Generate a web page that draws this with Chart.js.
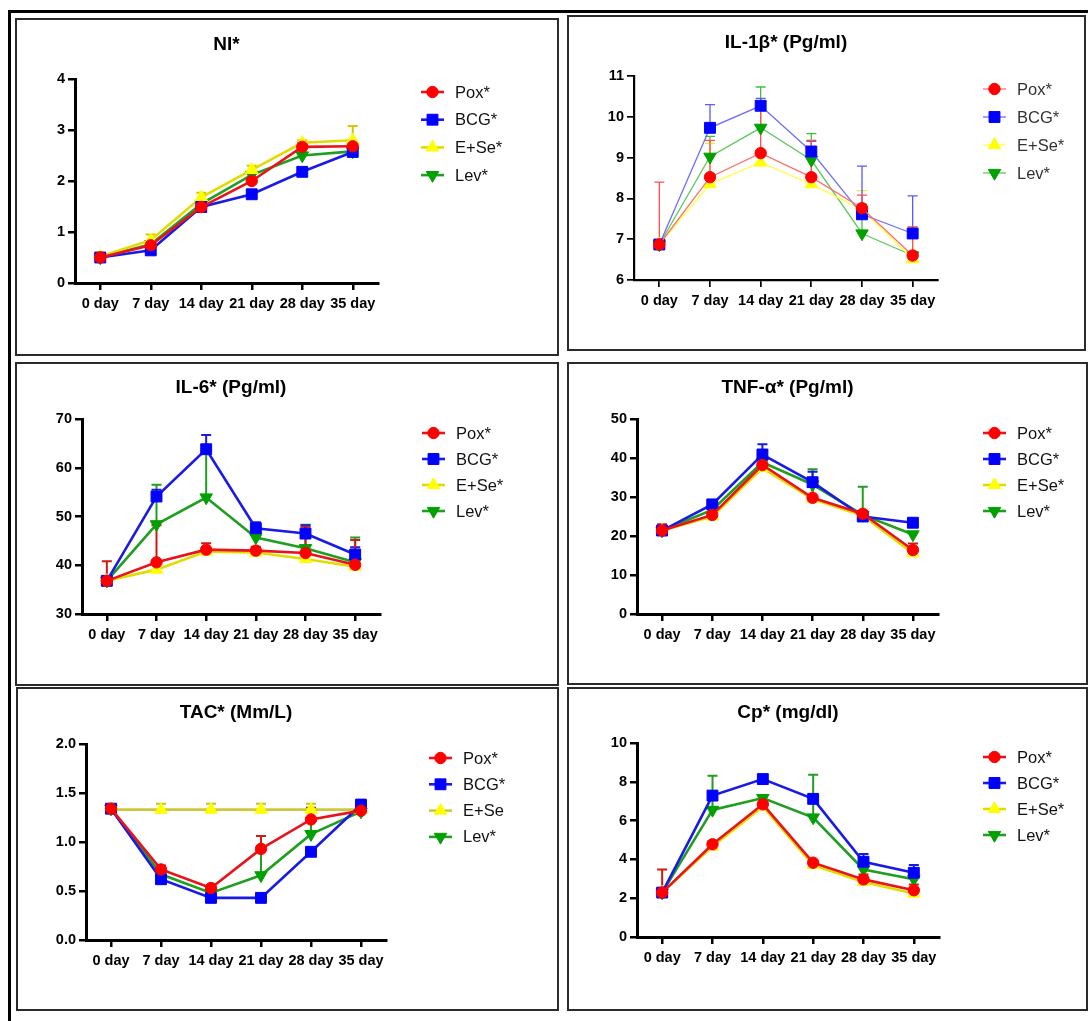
<!DOCTYPE html>
<html><head><meta charset="utf-8">
<script src="https://cdn.jsdelivr.net/npm/chart.js@4.4.0/dist/chart.umd.min.js"></script>
<style>
html,body{margin:0;padding:0;background:#fff;width:1088px;height:1021px;overflow:hidden;position:relative;}
.frameTop{position:absolute;left:8px;top:10px;width:1080px;height:3px;background:#000;}
.frameLeft{position:absolute;left:8px;top:10px;width:3px;height:1011px;background:#000;}
.box{position:absolute;border:2px solid #2b2b2b;box-sizing:border-box;pointer-events:none;}
canvas{position:absolute;}
</style></head><body>
<div class="frameTop"></div><div class="frameLeft"></div>
<script>
// ---------- DATA ----------
const days = ['0 day', '7 day', '14 day', '21 day', '28 day', '35 day'];
const groupNames = ['Pox*', 'BCG*', 'E+Se*', 'Lev*'];
const tacGroupNames = ['Pox*', 'BCG*', 'E+Se', 'Lev*'];

// NI*
const ni_pox = [0.50, 0.74, 1.49, 2.00, 2.67, 2.68];
const ni_bcg = [0.50, 0.64, 1.49, 1.74, 2.18, 2.57];
const ni_ese = [0.52, 0.84, 1.68, 2.22, 2.75, 2.80];
const ni_lev = [0.50, 0.76, 1.55, 2.12, 2.50, 2.58];
const ni_pox_sd = [0.03, 0.06, 0.05, 0.07, 0.08, 0.06];
const ni_bcg_sd = [0.03, 0.05, 0.05, 0.05, 0.07, 0.05];
const ni_ese_sd = [0.03, 0.11, 0.09, 0.08, 0.05, 0.28];
const ni_lev_sd = [0.03, 0.05, 0.05, 0.06, 0.06, 0.05];

// IL-1β*
const il1_pox = [6.87, 8.52, 9.11, 8.52, 7.76, 6.60];
const il1_bcg = [6.87, 9.73, 10.27, 9.15, 7.61, 7.14];
const il1_ese = [6.87, 8.35, 8.88, 8.35, 7.72, 6.52];
const il1_lev = [6.87, 9.02, 9.73, 8.94, 7.14, 6.60];
const il1_pox_sd = [1.53, 0.90, 1.25, 0.90, 0.32, 0.70];
const il1_bcg_sd = [0, 0.57, 0.18, 0.25, 1.18, 0.92];
const il1_ese_sd = [0, 1.00, 0.30, 1.08, 0.47, 0.78];
const il1_lev_sd = [0, 0.50, 1.00, 0.65, 0.72, 0.10];

// IL-6*
const il6_pox = [36.8, 40.6, 43.2, 43.0, 42.5, 40.1];
const il6_bcg = [36.8, 54.1, 63.8, 47.6, 46.5, 42.2];
const il6_ese = [36.8, 39.1, 42.8, 42.6, 41.3, 39.7];
const il6_lev = [36.8, 48.4, 53.9, 45.7, 43.5, 40.6];
const il6_pox_sd = [4.0, 7.6, 1.3, 0.8, 5.4, 5.1];
const il6_bcg_sd = [0, 1.4, 2.9, 1.2, 1.7, 1.5];
const il6_ese_sd = [0, 0, 0, 0, 0, 0];
const il6_lev_sd = [0, 8.1, 9.4, 0, 4.8, 5.1];

// TNF-α*
const tnf_pox = [21.4, 25.4, 38.2, 29.8, 25.7, 16.4];
const tnf_bcg = [21.4, 28.1, 40.9, 33.8, 25.0, 23.4];
const tnf_ese = [21.4, 25.0, 37.4, 29.5, 25.2, 15.6];
const tnf_lev = [21.4, 26.7, 38.9, 33.2, 25.4, 20.4];
const tnf_pox_sd = [1.6, 1.5, 3.8, 2.8, 0.5, 1.7];
const tnf_bcg_sd = [0, 0.5, 2.6, 2.7, 1.5, 0.5];
const tnf_ese_sd = [0, 0, 3.5, 0, 0, 0];
const tnf_lev_sd = [0, 0.5, 1.5, 3.9, 7.2, 0.5];

// TAC*
const tac_pox = [1.34, 0.72, 0.53, 0.93, 1.23, 1.32];
const tac_bcg = [1.34, 0.62, 0.43, 0.43, 0.90, 1.38];
const tac_ese = [1.33, 1.33, 1.33, 1.33, 1.33, 1.33];
const tac_lev = [1.34, 0.67, 0.48, 0.66, 1.08, 1.31];
const tac_pox_sd = [0.02, 0.04, 0.03, 0.13, 0.12, 0.05];
const tac_bcg_sd = [0, 0, 0, 0, 0, 0.05];
const tac_ese_sd = [0.03, 0.06, 0.06, 0.06, 0.06, 0.03];
const tac_lev_sd = [0, 0, 0, 0.26, 0.15, 0];

// Cp*
const cp_pox = [2.29, 4.78, 6.84, 3.83, 2.97, 2.41];
const cp_bcg = [2.29, 7.29, 8.14, 7.12, 3.88, 3.31];
const cp_ese = [2.29, 4.66, 6.72, 3.71, 2.84, 2.24];
const cp_lev = [2.29, 6.55, 7.16, 6.16, 3.48, 2.98];
const cp_pox_sd = [1.19, 0.15, 0.1, 0.1, 0.25, 0.3];
const cp_bcg_sd = [0, 0, 0, 0, 0.4, 0.4];
const cp_ese_sd = [0, 0, 0, 0, 0, 0];
const cp_lev_sd = [0, 1.76, 0, 2.2, 0, 0];

// ---------- STYLES ----------
const FONT = '"Liberation Sans", Arial, Helvetica, sans-serif';
const shapes = ['circle', 'rect', 'triangle', 'triangle'];
const rotations = [0, 0, 0, 180];
const radii = [5.7, 7.7, 7.2, 7.2];
const markerColors = ['#ff0000', '#0000ff', '#ffff00', '#00a000'];
const boldTheme = {
  line: ['#e8141c', '#1a1ae6', '#e0dc00', '#1f9e1f'],
  err: ['#d01818', '#1a1ae6', '#d4c800', '#1f9e1f'],
  lw: 2.6, axisW: 3, legendColor: '#111'
};
const tacTheme = {
  line: ['#e8141c', '#1a1ae6', '#cdc83a', '#1f9e1f'],
  err: ['#d01818', '#1a1ae6', '#c8c030', '#1f9e1f'],
  lw: 2.6, axisW: 3, legendColor: '#111'
};
const lightTheme = {
  line: ['#ff6e6e', '#6e6eff', '#ffff4a', '#5cc85c'],
  err: ['#ff5050', '#5a5aff', '#f0e640', '#40c040'],
  lw: 1.3, axisW: 2.2, legendColor: '#333'
};

// ---------- PLUGINS ----------
const errorBars = {
  id: 'errorBars',
  beforeDatasetsDraw(chart) {
    const ctx = chart.ctx, xs = chart.scales.x, ys = chart.scales.y;
    const dsets = chart.data.datasets;
    for (let d = dsets.length - 1; d >= 0; d--) {
      const ds = dsets[d];
      if (!ds.errors) continue;
      ctx.save();
      ctx.strokeStyle = ds.errorColor;
      ctx.lineWidth = ds.errorWidth;
      ds.data.forEach((v, i) => {
        const e = ds.errors[i];
        if (!e) return;
        const x = xs.getPixelForValue(i);
        const y0 = ys.getPixelForValue(v);
        const y1 = ys.getPixelForValue(v + e);
        ctx.beginPath();
        ctx.moveTo(x, y0); ctx.lineTo(x, y1);
        ctx.moveTo(x - 5, y1); ctx.lineTo(x + 5, y1);
        ctx.stroke();
      });
      ctx.restore();
    }
  }
};

const panelTitle = {
  id: 'panelTitle',
  afterDraw(chart, args, opts) {
    const ctx = chart.ctx, ca = chart.chartArea;
    ctx.save();
    ctx.font = 'bold 19px ' + FONT;
    ctx.fillStyle = '#000';
    ctx.textAlign = 'center';
    ctx.textBaseline = 'middle';
    ctx.fillText(opts.text, (ca.left + ca.right) / 2, opts.y);
    ctx.restore();
  }
};

function drawMarker(ctx, style, rot, r, x, y, color) {
  ctx.save();
  ctx.fillStyle = color; ctx.strokeStyle = color; ctx.lineWidth = 1;
  if (Chart.helpers && Chart.helpers.drawPoint) {
    Chart.helpers.drawPoint(ctx, {pointStyle: style, rotation: rot, radius: r, borderWidth: 1}, x, y);
  } else {
    ctx.beginPath(); ctx.arc(x, y, r, 0, Math.PI * 2); ctx.fill();
  }
  ctx.restore();
}

const panelLegend = {
  id: 'panelLegend',
  afterDraw(chart, args, opts) {
    const ctx = chart.ctx;
    chart.data.datasets.forEach((ds, i) => {
      const y = opts.y0 + i * opts.dy;
      const tx = opts.x;
      ctx.save();
      ctx.strokeStyle = ds.borderColor;
      ctx.lineWidth = ds.borderWidth;
      ctx.beginPath(); ctx.moveTo(tx - 34, y); ctx.lineTo(tx - 11, y); ctx.stroke();
      ctx.restore();
      drawMarker(ctx, ds.pointStyle, ds.pointRotation, ds.pointRadius, tx - 22.5, y, ds.pointBackgroundColor);
      ctx.save();
      ctx.font = '16.5px ' + FONT;
      ctx.fillStyle = opts.color;
      ctx.textAlign = 'left';
      ctx.textBaseline = 'middle';
      ctx.fillText(ds.label, tx, y + 1);
      ctx.restore();
    });
  }
};

// ---------- PANELS ----------
const panels = [
  {title: 'NI*', names: groupNames, theme: boldTheme,
   series: [[ni_pox, ni_pox_sd], [ni_bcg, ni_bcg_sd], [ni_ese, ni_ese_sd], [ni_lev, ni_lev_sd]],
   y: {min: 0, max: 4, step: 1, dec: 0},
   box: {x: 15, y: 18, w: 544, h: 338}, area: {l: 75, r: 378, t: 79, b: 283},
   titleY: 45, leg: {x: 455, y0: 92, dy: 27.7}},
  {title: 'IL-1\u03B2* (Pg/ml)', names: groupNames, theme: lightTheme,
   series: [[il1_pox, il1_pox_sd], [il1_bcg, il1_bcg_sd], [il1_ese, il1_ese_sd], [il1_lev, il1_lev_sd]],
   y: {min: 6, max: 11, step: 1, dec: 0},
   box: {x: 567, y: 15, w: 519, h: 336}, area: {l: 634, r: 938, t: 76, b: 280},
   titleY: 43, leg: {x: 1017, y0: 89, dy: 28}},
  {title: 'IL-6* (Pg/ml)', names: groupNames, theme: boldTheme,
   series: [[il6_pox, il6_pox_sd], [il6_bcg, il6_bcg_sd], [il6_ese, il6_ese_sd], [il6_lev, il6_lev_sd]],
   y: {min: 30, max: 70, step: 10, dec: 0},
   box: {x: 15, y: 362, w: 544, h: 324}, area: {l: 82, r: 380, t: 419, b: 614},
   titleY: 388, leg: {x: 456, y0: 433, dy: 26}},
  {title: 'TNF-\u03B1* (Pg/ml)', names: groupNames, theme: boldTheme,
   series: [[tnf_pox, tnf_pox_sd], [tnf_bcg, tnf_bcg_sd], [tnf_ese, tnf_ese_sd], [tnf_lev, tnf_lev_sd]],
   y: {min: 0, max: 50, step: 10, dec: 0},
   box: {x: 567, y: 362, w: 521, h: 323}, area: {l: 637, r: 938, t: 419, b: 614},
   titleY: 388, leg: {x: 1017, y0: 433, dy: 26}},
  {title: 'TAC* (Mm/L)', names: tacGroupNames, theme: tacTheme,
   series: [[tac_pox, tac_pox_sd], [tac_bcg, tac_bcg_sd], [tac_ese, tac_ese_sd], [tac_lev, tac_lev_sd]],
   y: {min: 0, max: 2, step: 0.5, dec: 1},
   box: {x: 16, y: 687, w: 543, h: 324}, area: {l: 86, r: 386, t: 744, b: 940},
   titleY: 713, leg: {x: 463, y0: 758, dy: 26.3}},
  {title: 'Cp* (mg/dl)', names: groupNames, theme: boldTheme,
   series: [[cp_pox, cp_pox_sd], [cp_bcg, cp_bcg_sd], [cp_ese, cp_ese_sd], [cp_lev, cp_lev_sd]],
   y: {min: 0, max: 10, step: 2, dec: 0},
   box: {x: 567, y: 687, w: 521, h: 324}, area: {l: 637, r: 939, t: 743, b: 937},
   titleY: 713, leg: {x: 1017, y0: 757, dy: 26}}
];

const YW = 40, XH = 40;

panels.forEach(p => {
  const c = document.createElement('canvas');
  c.width = p.box.w; c.height = p.box.h;
  c.style.left = p.box.x + 'px'; c.style.top = p.box.y + 'px';
  c.style.width = p.box.w + 'px'; c.style.height = p.box.h + 'px';
  document.body.appendChild(c);
  const b = document.createElement('div');
  b.className = 'box';
  b.style.left = p.box.x + 'px'; b.style.top = p.box.y + 'px';
  b.style.width = p.box.w + 'px'; b.style.height = p.box.h + 'px';
  document.body.appendChild(b);

  const ox = p.box.x, oy = p.box.y, th = p.theme;
  const padding = {
    left: p.area.l - ox - YW,
    right: ox + p.box.w - p.area.r,
    top: p.area.t - oy,
    bottom: oy + p.box.h - p.area.b - XH
  };
  const datasets = p.series.map((s, i) => ({
    label: p.names[i],
    data: s[0],
    errors: s[1],
    errorColor: th.err[i],
    errorWidth: th === lightTheme ? 1.3 : 2,
    borderColor: th.line[i],
    backgroundColor: markerColors[i],
    borderWidth: th.lw,
    pointStyle: shapes[i],
    pointRotation: rotations[i],
    pointRadius: radii[i],
    pointBackgroundColor: markerColors[i],
    pointBorderColor: markerColors[i],
    pointBorderWidth: 1,
    tension: 0,
    fill: false,
    clip: false
  }));
  const tickFont = {family: FONT, size: 14.5, weight: 'bold'};
  const gridOpt = {display: true, drawOnChartArea: false, drawTicks: true, tickLength: 7,
                   lineWidth: th.axisW - 0.5, color: '#000'};
  new Chart(c, {
    type: 'line',
    data: {labels: days, datasets},
    options: {
      responsive: false, devicePixelRatio: 1, animation: false, events: [],
      layout: {padding},
      plugins: {
        legend: {display: false}, tooltip: {enabled: false},
        panelTitle: {text: p.title, y: p.titleY - oy},
        panelLegend: {x: p.leg.x - ox, y0: p.leg.y0 - oy, dy: p.leg.dy, color: th.legendColor}
      },
      scales: {
        x: {
          type: 'category', offset: true,
          grid: Object.assign({}, gridOpt, {offset: false}),
          border: {display: true, width: th.axisW, color: '#000'},
          ticks: {color: '#000', font: tickFont, padding: 5, autoSkip: false, maxRotation: 0, minRotation: 0},
          afterFit(s) { s.height = XH; }
        },
        y: {
          min: p.y.min, max: p.y.max,
          grid: gridOpt,
          border: {display: true, width: th.axisW, color: '#000'},
          ticks: {color: '#000', font: tickFont, padding: 3, stepSize: p.y.step,
                  callback: (v) => Number(v).toFixed(p.y.dec)},
          afterFit(s) { s.width = YW; }
        }
      }
    },
    plugins: [errorBars, panelTitle, panelLegend]
  });
});
</script>
</body></html>
